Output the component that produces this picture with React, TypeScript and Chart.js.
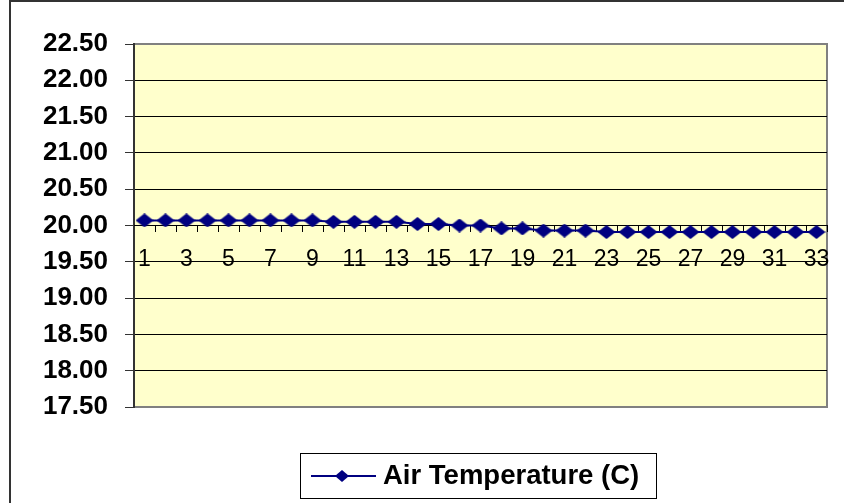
import React, { useEffect, useRef } from 'react';
import { Chart, registerables } from 'chart.js';

Chart.register(...registerables);

const categories = ['1', '2', '3', '4', '5', '6', '7', '8', '9', '10', '11', '12', '13', '14', '15', '16', '17', '18', '19', '20', '21', '22', '23', '24', '25', '26', '27', '28', '29', '30', '31', '32', '33'];
const airTemperature = [
  20.07, 20.07, 20.07, 20.07, 20.07, 20.07, 20.07, 20.07, 20.07,
  20.05, 20.05, 20.05, 20.05,
  20.02, 20.02,
  20.0, 20.0,
  19.96, 19.96,
  19.93, 19.93, 19.93,
  19.91, 19.91, 19.91, 19.91, 19.91, 19.91, 19.91, 19.91, 19.91, 19.91, 19.91,
];
const seriesLabel = 'Air Temperature (C)';
const yMin = 17.5;
const yMax = 22.5;
const yStep = 0.5;
const xAxisCrossing = 20.0;

const FONT = '"Liberation Sans", Arial, sans-serif';

export default function App() {
  const ref = useRef<HTMLCanvasElement>(null);

  useEffect(() => {
    const canvas = ref.current!;
    const marker = document.createElement('canvas');
    marker.width = 18;
    marker.height = 14;
    const mctx = marker.getContext('2d')!;
    mctx.fillStyle = '#000080';
    mctx.beginPath();
    mctx.moveTo(0, 7);
    mctx.lineTo(9, 0);
    mctx.lineTo(18, 7);
    mctx.lineTo(9, 14);
    mctx.closePath();
    mctx.fill();

    const framePlugin = {
      id: 'frame',
      beforeDraw(chart: any) {
        const { ctx, chartArea: a } = chart;
        ctx.save();
        ctx.fillStyle = '#ffffff';
        ctx.fillRect(0, 0, chart.width, chart.height);
        ctx.fillStyle = '#333333';
        ctx.fillRect(9, 0, 2, chart.height);
        ctx.fillRect(9, 0, chart.width - 9, 2);
        ctx.fillStyle = '#FFFFCC';
        ctx.fillRect(a.left, a.top, a.right - a.left, a.bottom - a.top);
        ctx.fillStyle = '#808080';
        ctx.fillRect(a.left + 1, a.top - 1, a.right - a.left, 2);
        ctx.fillRect(a.right - 1, a.top - 1, 2, a.bottom - a.top + 2);
        ctx.fillRect(a.left + 1, a.bottom - 1, a.right - a.left, 2);
        ctx.restore();
      },
      afterDraw(chart: any) {
        const { ctx } = chart;
        ctx.save();
        ctx.strokeStyle = '#000000';
        ctx.lineWidth = 1;
        ctx.strokeRect(300.5, 453.5, 356, 45);
        ctx.strokeStyle = '#000080';
        ctx.lineWidth = 2;
        ctx.beginPath();
        ctx.moveTo(311, 476);
        ctx.lineTo(376, 476);
        ctx.stroke();
        ctx.fillStyle = '#000080';
        ctx.beginPath();
        ctx.moveTo(335, 476);
        ctx.lineTo(342, 470);
        ctx.lineTo(349, 476);
        ctx.lineTo(342, 482);
        ctx.closePath();
        ctx.fill();
        ctx.fillStyle = '#000000';
        ctx.font = `bold 27.5px ${FONT}`;
        ctx.textBaseline = 'alphabetic';
        ctx.textAlign = 'left';
        ctx.fillText(chart.data.datasets[0].label, 383, 484);
        ctx.restore();
      },
    };

    const chart = new Chart(canvas, {
      type: 'line',
      data: {
        labels: categories,
        datasets: [
          {
            label: seriesLabel,
            data: airTemperature,
            borderColor: '#000080',
            backgroundColor: '#000080',
            borderWidth: 2,
            pointStyle: marker as any,
            pointRadius: 8,
            pointHoverRadius: 8,
            tension: 0,
            fill: false,
          },
        ],
      },
      options: {
        responsive: false,
        animation: false,
        events: [],
        layout: { padding: { left: 0, top: 44, right: 17, bottom: 96 } },
        plugins: {
          legend: { display: false },
          tooltip: { enabled: false },
          title: { display: false },
        },
        scales: {
          y: {
            type: 'linear',
            position: 'left',
            min: yMin,
            max: yMax,
            afterFit(scale: any) {
              scale.width = 134;
            },
            ticks: {
              stepSize: yStep,
              callback: (v: any) => Number(v).toFixed(2),
              color: '#000000',
              font: { family: FONT, size: 26, weight: 'bold' },
              padding: 17,
            },
            grid: {
              color: (c: any) =>
                c.tick && (c.tick.value === yMax || c.tick.value === yMin) ? 'rgba(0,0,0,0)' : '#000000',
              lineWidth: 1,
              tickLength: 9,
              tickColor: '#333333',
            },
            border: { display: true, color: '#333333', width: 2 },
          },
          x: {
            type: 'category',
            position: { y: xAxisCrossing } as any,
            offset: true,
            ticks: {
              autoSkip: false,
              maxRotation: 0,
              minRotation: 0,
              callback: (_v: any, i: number) => (i % 2 === 0 ? categories[i] : ''),
              color: '#000000',
              font: { family: FONT, size: 23 },
              padding: 14,
            },
            grid: {
              drawOnChartArea: false,
              drawTicks: true,
              offset: true,
              tickLength: 6,
              color: '#000000',
            },
            border: { display: true, color: '#000000', width: 1 },
          },
        },
      },
      plugins: [framePlugin],
    });

    return () => chart.destroy();
  }, []);

  return (
    <div style={{ position: 'fixed', left: 0, top: 0, width: 844, height: 503 }}>
      <canvas ref={ref} width={844} height={503} style={{ display: 'block', width: 844, height: 503 }} />
    </div>
  );
}
